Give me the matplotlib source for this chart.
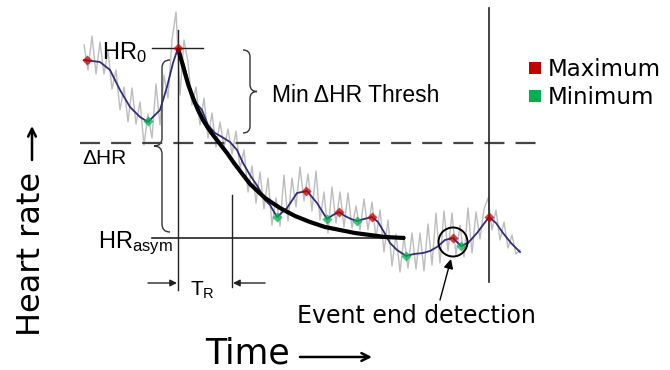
"""
Heart-rate recovery diagram: raw signal, smoothed signal, exponential fit,
local maxima/minima and the annotations used to define the recovery event.
"""

import matplotlib
matplotlib.use("Agg")
import matplotlib.pyplot as plt
from matplotlib.path import Path
from matplotlib.patches import PathPatch, Circle, Rectangle

plt.rcParams["mathtext.fontset"] = "custom"
plt.rcParams["mathtext.rm"] = "Liberation Sans"
plt.rcParams["mathtext.it"] = "Liberation Sans"

# diagram units: x = time, y = heart rate drawn downward (picture space)
raw_x = [84, 88, 92, 96, 100, 104, 108, 112, 116, 120, 124, 128, 132, 136, 140,
         144, 148, 152, 156, 160, 164, 168, 172, 176, 180, 184, 188, 192, 196, 200,
         204, 208, 212, 216, 220, 224, 228, 232, 236, 240, 244, 248, 252, 256, 260,
         264, 268, 272, 276, 280, 284, 288, 292, 296, 300, 304, 308, 312, 316, 320,
         324, 328, 332, 336, 340, 344, 348, 352, 356, 360, 364, 368, 372, 376, 380,
         384, 388, 392, 396, 400, 404, 408, 412, 416, 420, 424, 428, 432, 436, 440,
         444, 448, 452, 456, 460, 464, 468, 472, 476, 480, 484, 488, 492, 496, 500,
         504, 508, 512, 516, 520]
raw_y = [45, 70, 36, 74, 42, 74, 51, 89, 70, 110, 87, 122, 88, 124, 102,
         145, 114, 138, 84, 125, 75, 98, 40, 12, 95, 40, 62, 105, 87, 125,
         98, 138, 113, 147, 122, 147, 129, 154, 131, 169, 150, 192, 166, 203, 172,
         209, 178, 225, 198, 226, 175, 221, 178, 207, 167, 201, 174, 211, 171, 220,
         192, 233, 187, 223, 192, 227, 193, 228, 206, 230, 199, 230, 202, 238, 210,
         252, 220, 266, 234, 272, 237, 268, 233, 269, 233, 271, 224, 265, 213, 263,
         211, 251, 213, 255, 225, 257, 208, 253, 212, 239, 209, 198, 230, 210, 240,
         222, 248, 235, 254, 250]

smooth_x = [84, 100, 110, 120, 130, 140, 148, 160, 167, 173, 178, 184, 190, 196,
            202, 208, 215, 222, 230, 237, 243, 250, 258, 265, 270, 277, 287, 297,
            307, 317, 327, 333, 339, 345, 351, 357, 364, 372, 378, 384, 390, 397,
            406, 414, 423, 430, 437, 445, 453, 461, 468, 477, 483, 489, 496, 503,
            511, 520]
smooth_y = [60, 62, 70, 90, 107, 117, 122, 110, 87, 63, 48, 65, 88, 103,
            110, 125, 133, 137, 142, 150, 163, 175, 187, 200, 205, 217, 208, 193,
            191, 203, 219, 215, 212, 216, 219, 221, 219, 217, 222, 232, 243, 250,
            256, 254, 253, 251, 247, 240, 238, 246, 243, 233, 225, 217, 223, 233,
            243, 252]

fit_x = [178, 183, 188, 193, 198, 203, 208, 213, 220, 227, 234, 240, 250, 265,
         280, 295, 310, 325, 340, 355, 370, 385, 405]
fit_y = [48, 66, 84, 98, 110, 120, 128, 135, 144, 153, 163, 171, 184, 198,
         208, 216, 222, 227, 230, 233, 235, 237, 238]

max_x = [87, 178, 306, 339, 372, 453, 489]
max_y = [60, 48, 191, 212, 217, 238, 217]
min_x = [148, 277, 327, 357, 406, 461]
min_y = [121, 217, 219, 221, 256, 246]

hr0 = 48
hr_asym = 238
thresh = 143
t_start, t_end = 178, 232
event_end = 489

RED = "#c00000"
GREEN = "#00b050"
INK = "#222222"


def brace(ax, x, y0, y1, w, side):
    """Vertical curly brace, ends at x, tip pointing to side (+1 / -1)."""
    xs = x + side * w * 0.5
    xt = x + side * w
    ym = (y0 + y1) / 2
    r = w * 0.5
    verts = [(x, y0), (xs, y0), (xs, y0 + r), (xs, ym - r), (xs, ym), (xt, ym),
             (xs, ym), (xs, ym + r), (xs, y1 - r), (xs, y1), (x, y1)]
    codes = [Path.MOVETO, Path.CURVE3, Path.CURVE3, Path.LINETO, Path.CURVE3,
             Path.CURVE3, Path.CURVE3, Path.CURVE3, Path.LINETO, Path.CURVE3,
             Path.CURVE3]
    ax.add_patch(PathPatch(Path(verts, codes), fill=False, lw=1.0, ec="#333333"))


fig = plt.figure(figsize=(6.7, 3.7), dpi=100)
ax = fig.add_axes([0, 0, 1, 1])
ax.set_xlim(0, 670)
ax.set_ylim(370, 0)
ax.axis("off")

ax.plot(raw_x, raw_y, color="#bdbdbd", lw=1.0, zorder=1)
ax.plot(smooth_x, smooth_y, color="#2e2e7a", lw=1.3, zorder=3)
ax.plot(fit_x, fit_y, color="black", lw=3.0, zorder=4, solid_capstyle="butt")
ax.scatter(max_x, max_y, marker="D", s=26, color=RED, alpha=0.75, zorder=5, lw=0)
ax.scatter(min_x, min_y, marker="D", s=26, color=GREEN, alpha=0.75, zorder=5, lw=0)

# reference lines
ax.plot([152, 203], [hr0, hr0], color=INK, lw=1.0, zorder=2)
ax.plot([152, 405], [hr_asym, hr_asym], color=INK, lw=1.2, zorder=2)
ax.plot([80, 545], [thresh, thresh], color="#444444", lw=1.6,
        dashes=(9, 5), zorder=2)
ax.plot([t_start, t_start], [30, 290], color=INK, lw=1.0, zorder=2)
ax.plot([t_end, t_end], [195, 287], color=INK, lw=1.0, zorder=2)
ax.plot([event_end, event_end], [8, 282], color=INK, lw=1.2, zorder=2)

# T_R arrows
ax.annotate("", xy=(t_start - 1, 283), xytext=(148, 283),
            arrowprops=dict(arrowstyle="-|>", lw=1.0, color=INK,
                            mutation_scale=10, shrinkA=0, shrinkB=0))
ax.annotate("", xy=(t_end + 1, 283), xytext=(265, 283),
            arrowprops=dict(arrowstyle="-|>", lw=1.0, color=INK,
                            mutation_scale=10, shrinkA=0, shrinkB=0))

brace(ax, 243, 50, 133, 14, 1)
brace(ax, 170, 60, 232, 16, -1)

# event end detection
ax.add_patch(Circle((453, 242), 14.5, fill=False, lw=1.4, ec="black", zorder=6))
ax.annotate("", xy=(451, 259), xytext=(440, 300),
            arrowprops=dict(arrowstyle="-|>", lw=1.0, color="black",
                            mutation_scale=14, shrinkA=0, shrinkB=0))

arial = "Liberation Sans"
ax.text(102, 53, r"HR$_0$", fontsize=17, family=arial, va="center", ha="left")
ax.text(272, 95, "Min \u0394HR Thresh", fontsize=16.5, family=arial,
        va="center", ha="left")
ax.text(82, 158, "\u0394HR", fontsize=15, family=arial, va="center", ha="left")
ax.text(98, 243, r"HR$_{\rm asym}$", fontsize=17, family=arial,
        va="center", ha="left")
ax.text(190, 290, r"T$_R$", fontsize=15, family=arial, va="center", ha="left")

ax.text(297, 316, "Event end detection", fontsize=17, va="center", ha="left")

# legend
ax.add_patch(Rectangle((529, 62), 12, 12, color=RED, lw=0))
ax.add_patch(Rectangle((529, 90), 12, 12, color=GREEN, lw=0))
ax.text(548, 69, "Maximum", fontsize=16.5, va="center", ha="left")
ax.text(548, 97, "Minimum", fontsize=16.5, va="center", ha="left")

# axis labels with arrows
ax.text(205, 354, "Time", fontsize=25, va="center", ha="left")
ax.annotate("", xy=(372, 357), xytext=(300, 357),
            arrowprops=dict(arrowstyle="->", lw=1.8, color="black",
                            mutation_scale=14, shrinkA=0, shrinkB=0))
ax.text(32, 336, "Heart rate", fontsize=23, va="center", ha="left",
        rotation=90, rotation_mode="anchor")
ax.annotate("", xy=(32, 126), xytext=(32, 160),
            arrowprops=dict(arrowstyle="->", lw=1.8, color="black",
                            mutation_scale=14, shrinkA=0, shrinkB=0))

fig.savefig("out.png", dpi=100)
